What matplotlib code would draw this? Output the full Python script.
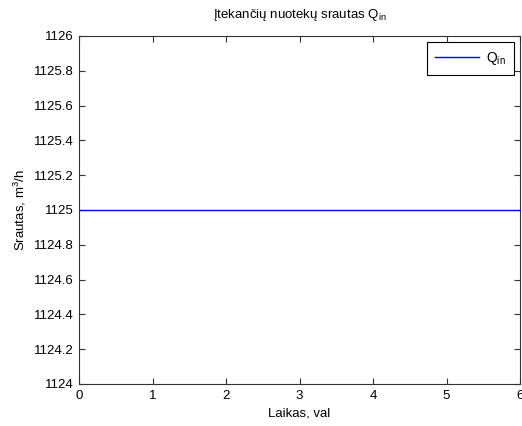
import matplotlib
matplotlib.use('Agg')
import matplotlib.pyplot as plt

plt.rcParams['font.family'] = ['Liberation Sans', 'DejaVu Sans']
plt.rcParams['mathtext.default'] = 'regular'
plt.rcParams['font.size'] = 9

# data
t = [0, 6]
q_in = [1125, 1125]
yticks = [1124, 1124.2, 1124.4, 1124.6, 1124.8, 1125, 1125.2, 1125.4, 1125.6, 1125.8, 1126]
xticks = [0, 1, 2, 3, 4, 5, 6]

fig = plt.figure(figsize=(5.22, 4.26), dpi=100)
ax = fig.add_axes([79 / 522, 1 - 384 / 426, 441 / 522, 348 / 426])

ax.plot(t, q_in, color='#0000ff', lw=1, label='Q$_{in}$')
ax.set_xlim(0, 6)
ax.set_ylim(1124, 1126)
ax.set_xticks(xticks)
ax.set_yticks(yticks)
ax.set_yticklabels([f'{v:g}' for v in yticks])
ax.tick_params(direction='in', top=True, right=True, length=4, width=0.8,
               colors='#333333', labelcolor='black', labelsize=9.5, pad=4)
for s in ax.spines.values():
    s.set_color('#333333')
    s.set_linewidth(0.8)

ax.set_title('Įtekančių nuotekų srautas Q$_{in}$', fontsize=9.5, pad=13)
ax.set_xlabel('Laikas, val', fontsize=9.5, labelpad=4)
ax.set_ylabel('Srautas, m$^3$/h', fontsize=9.5, labelpad=4)

leg = ax.legend(loc='upper right', fontsize=10, fancybox=False, framealpha=1,
                edgecolor='black', handlelength=3.2, handletextpad=0.5,
                borderpad=0.55, borderaxespad=0.45)
leg.get_frame().set_linewidth(0.8)

fig.savefig('out.png', dpi=100)
